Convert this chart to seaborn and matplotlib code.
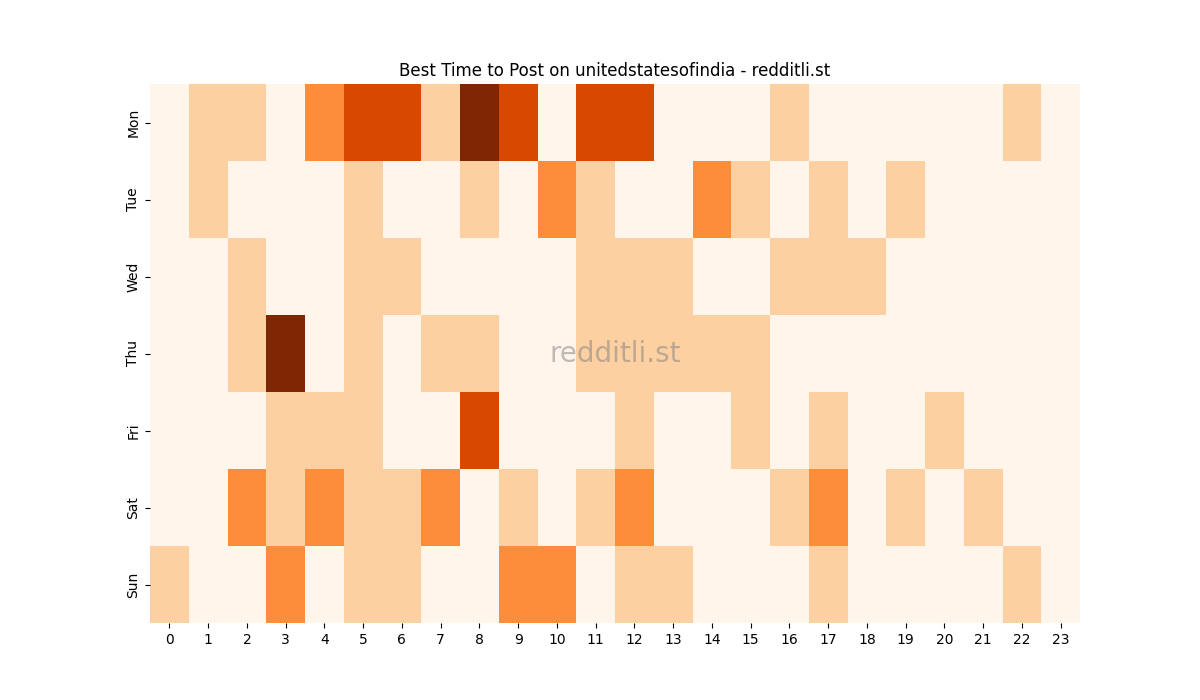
import matplotlib
matplotlib.use("Agg")
import matplotlib.pyplot as plt
import seaborn as sns
import pandas as pd

days = ['Mon', 'Tue', 'Wed', 'Thu', 'Fri', 'Sat', 'Sun']
hours = list(range(24))

# activity level per hour, one list per day
mon = [0, 1, 1, 0, 2, 3, 3, 1, 4, 3, 0, 3, 3, 0, 0, 0, 1, 0, 0, 0, 0, 0, 1, 0]
tue = [0, 1, 0, 0, 0, 1, 0, 0, 1, 0, 2, 1, 0, 0, 2, 1, 0, 1, 0, 1, 0, 0, 0, 0]
wed = [0, 0, 1, 0, 0, 1, 1, 0, 0, 0, 0, 1, 1, 1, 0, 0, 1, 1, 1, 0, 0, 0, 0, 0]
thu = [0, 0, 1, 4, 0, 1, 0, 1, 1, 0, 0, 1, 1, 1, 1, 1, 0, 0, 0, 0, 0, 0, 0, 0]
fri = [0, 0, 0, 1, 1, 1, 0, 0, 3, 0, 0, 0, 1, 0, 0, 1, 0, 1, 0, 0, 1, 0, 0, 0]
sat = [0, 0, 2, 1, 2, 1, 1, 2, 0, 1, 0, 1, 2, 0, 0, 0, 1, 2, 0, 1, 0, 1, 0, 0]
sun = [1, 0, 0, 2, 0, 1, 1, 0, 0, 2, 2, 0, 1, 1, 0, 0, 0, 1, 0, 0, 0, 0, 1, 0]

df = pd.DataFrame([mon, tue, wed, thu, fri, sat, sun], index=days, columns=hours)

fig = plt.figure(figsize=(12, 7), dpi=100)
ax = sns.heatmap(df, cmap='Oranges', cbar=False, vmin=0, vmax=4)
ax.set_title('Best Time to Post on unitedstatesofindia - redditli.st')
ax.text(0.5, 0.5, 'redditli.st', transform=ax.transAxes, fontsize=20,
        color='gray', alpha=0.5, ha='center', va='center')

plt.savefig('out.png')
